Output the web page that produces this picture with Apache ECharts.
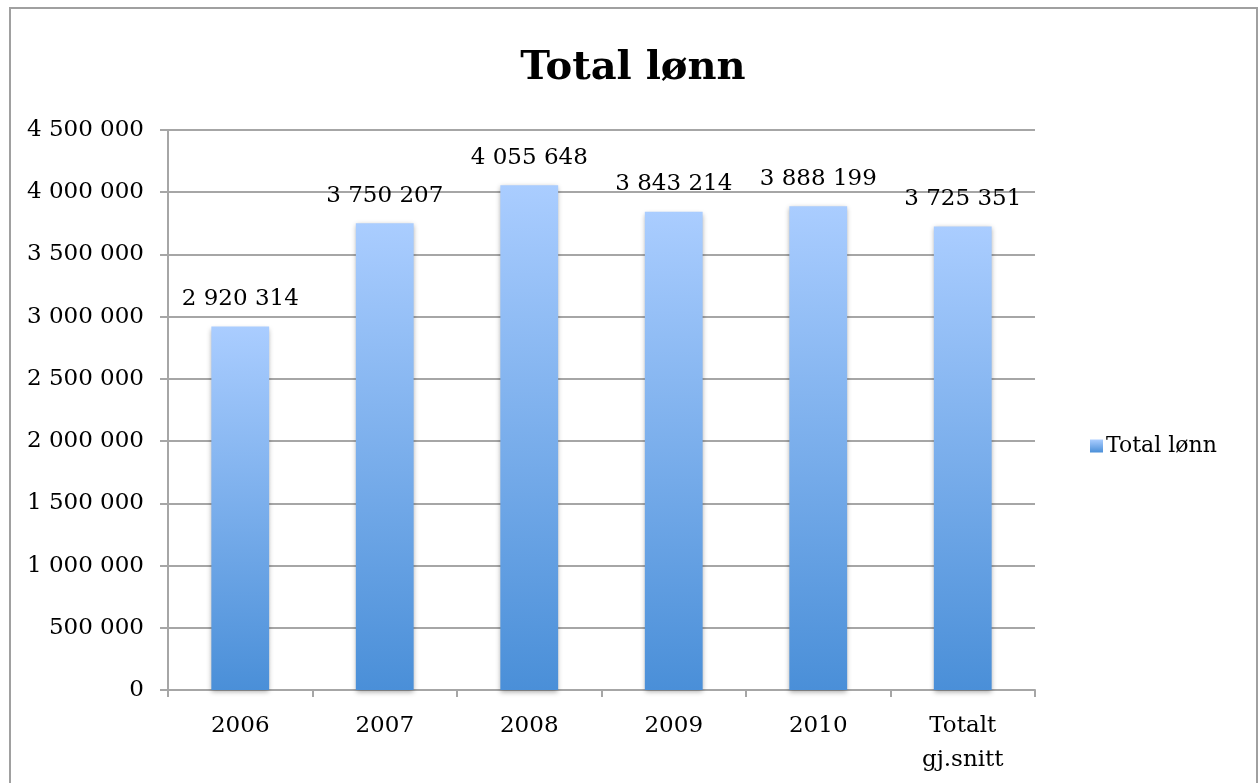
<!DOCTYPE html>
<html>
<head>
<meta charset="utf-8">
<script src="https://cdn.jsdelivr.net/npm/echarts@6/dist/echarts.min.js"></script>
<style>
  html, body { margin: 0; padding: 0; background: #fff; }
  #chart { width: 1258px; height: 783px; }
</style>
</head>
<body>
<div id="chart"></div>
<script>
// Årlig total lønn og gjennomsnitt
const categories = ['2006', '2007', '2008', '2009', '2010', 'Totalt\ngj.snitt'];
const values = [2920314, 3750207, 4055648, 3843214, 3888199, 3725351];
const seriesName = 'Total lønn';
const yTicks = { min: 0, max: 4500000, interval: 500000 };

const FONT = 'DejaVu Serif';
const AXIS_GREY = '#a6a6a6';

// Thousands separated by spaces (norsk format)
function fmt(v) {
  return String(Math.round(v)).replace(/\B(?=(\d{3})+(?!\d))/g, ' ');
}

const barGradient = new echarts.graphic.LinearGradient(0, 0, 0, 1, [
  { offset: 0, color: '#aacdff' },
  { offset: 1, color: '#4a8fd8' }
]);

const chart = echarts.init(document.getElementById('chart'), null, { renderer: 'canvas' });

chart.setOption({
  backgroundColor: '#ffffff',
  animation: false,
  title: {
    text: seriesName,
    left: 628,
    textAlign: 'center',
    top: 44,
    textStyle: { fontFamily: FONT, fontWeight: 'bold', fontSize: 40, color: '#000' }
  },
  graphic: [{
    type: 'rect',
    shape: { x: 10, y: 8, width: 1247, height: 800 },
    style: { fill: 'none', stroke: '#a0a0a0', lineWidth: 2 },
    silent: true
  }],
  legend: {
    orient: 'vertical',
    left: 1085,
    top: 430,
    itemWidth: 13,
    itemHeight: 13,
    itemGap: 6,
    icon: 'rect',
    textStyle: { fontFamily: FONT, fontSize: 22, color: '#000', padding: [0, 0, 0, -2] },
    data: [seriesName]
  },
  grid: { left: 168, right: 223, top: 130, bottom: 93, containLabel: false },
  xAxis: {
    type: 'category',
    data: categories,
    boundaryGap: true,
    axisLine: { show: true, lineStyle: { color: AXIS_GREY, width: 2 } },
    axisTick: { show: true, length: 7, lineStyle: { color: AXIS_GREY, width: 2 } },
    axisLabel: {
      margin: 19,
      fontFamily: FONT,
      fontSize: 23,
      color: '#000',
      lineHeight: 34,
      interval: 0
    }
  },
  yAxis: {
    type: 'value',
    min: yTicks.min,
    max: yTicks.max,
    interval: yTicks.interval,
    axisLine: { show: true, lineStyle: { color: AXIS_GREY, width: 2 } },
    axisTick: { show: true, length: 8, lineStyle: { color: AXIS_GREY, width: 2 } },
    splitLine: { show: true, lineStyle: { color: AXIS_GREY, width: 2 } },
    axisLabel: {
      margin: 24,
      fontFamily: FONT,
      fontSize: 23,
      color: '#000',
      formatter: fmt
    }
  },
  series: [{
    name: seriesName,
    type: 'bar',
    data: values,
    barWidth: '40%',
    itemStyle: {
      color: barGradient,
      shadowColor: 'rgba(0,0,0,0.35)',
      shadowBlur: 5,
      shadowOffsetY: 2
    },
    label: {
      show: true,
      position: 'top',
      distance: 16,
      fontFamily: FONT,
      fontSize: 23,
      color: '#000',
      formatter: p => fmt(p.value)
    }
  }]
});
</script>
</body>
</html>
